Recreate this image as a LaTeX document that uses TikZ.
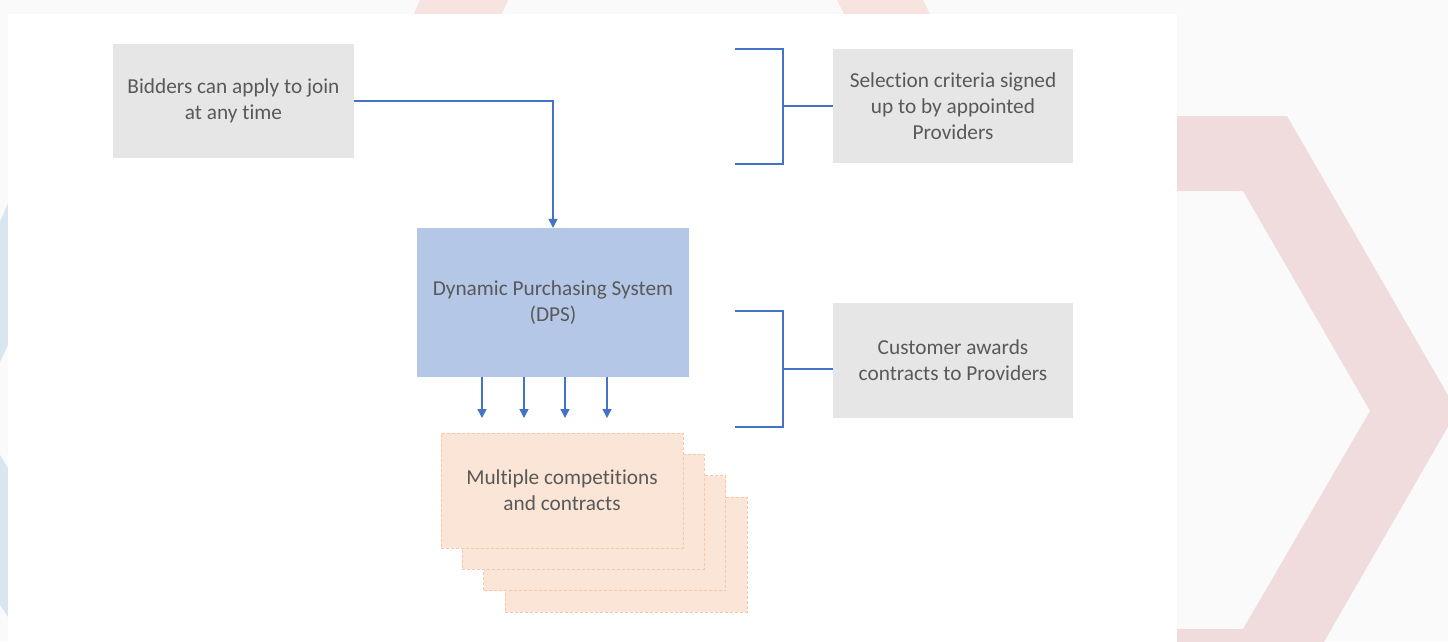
\documentclass[tikz,border=0pt]{standalone}
\usepackage{fontspec}
\setmainfont{Carlito}[Ligatures=NoCommon]
\usetikzlibrary{arrows.meta}
\definecolor{pagebg}{HTML}{FAFAFA}
\definecolor{chevpink}{HTML}{F0DCDD}
\definecolor{toppink}{HTML}{F7E3DF}
\definecolor{sideblue}{HTML}{D9E6EF}
\definecolor{greyfill}{HTML}{E6E6E6}
\definecolor{dpsfill}{HTML}{B4C7E7}
\definecolor{mcfill}{HTML}{FBE5D6}
\definecolor{mcline}{HTML}{F6C9AA}
\definecolor{linkblue}{HTML}{4472C4}
\definecolor{txtgrey}{HTML}{595959}
\tikzset{
  box/.style={rectangle, inner sep=0pt, align=center, text=txtgrey,
    font=\fontsize{21.3}{26}\selectfont,
    execute at begin node={\rule{0pt}{19.5pt}}},
  greybox/.style={box, fill=greyfill, minimum width=241pt, minimum height=114pt},
  dpsbox/.style={box, fill=dpsfill, minimum width=272pt, minimum height=149pt},
  mcbox/.style={box, fill=mcfill, draw=mcline, line width=0.9pt,
    dash pattern=on 3pt off 2pt, minimum width=242pt, minimum height=115pt},
  link/.style={draw=linkblue, line width=1.3pt},
  arr/.style={link, -{Triangle[width=9pt,length=9pt]}}
}
\begin{document}
\begin{tikzpicture}[x=1pt,y=-1pt]
\useasboundingbox (0,0) rectangle (1448,641);
\clip (0,0) rectangle (1448,641);
% page background and decorative shapes
\fill[pagebg] (0,0) rectangle (1448,641);
\fill[toppink] (420,0) -- (508,0) -- (499,20) -- (411,20) -- cycle;
\fill[toppink] (837,0) -- (923,0) -- (933,20) -- (847,20) -- cycle;
\fill[chevpink] (1150,116) -- (1287,116) -- (1457,411) -- (1287,706) -- (1150,706)
  -- (1150,629) -- (1243,629) -- (1370,411) -- (1243,191) -- (1150,191) -- cycle;
\fill[sideblue] (0,222) -- (8,203) -- (8,345) -- (0,362) -- cycle;
\fill[sideblue] (0,455) -- (8,468) -- (8,617) -- (0,605) -- cycle;
% white content panel
\fill[white] (8,14) rectangle (1177,660);

% boxes
\node[greybox] (bid) at (233.5,101) {Bidders can apply to join\\at any time};
\node[dpsbox] (dps) at (553,302.5) {Dynamic Purchasing System\\(DPS)};
\node[greybox, minimum width=240pt] (sel) at (953,106) {Selection criteria signed\\up to by appointed\\Providers};
\node[greybox, minimum width=240pt, minimum height=115pt] (cust) at (953,360.5) {Customer awards\\contracts to Providers};

% stacked competition cards, back to front
\node[mcbox] (mc4) at (626,554.5) {};
\node[mcbox] (mc3) at (604.6,533.1) {};
\node[mcbox] (mc2) at (583.3,511.8) {};
\node[mcbox] (mc1) at (562,490.5) {Multiple competitions\\and contracts};

% bidders feed into the DPS
\draw[arr] (bid.east) -| (dps.north);

% four outputs from the DPS
\coordinate (o1) at (482,418);
\coordinate (o2) at (524,418);
\coordinate (o3) at (565,418);
\coordinate (o4) at (607,418);
\foreach \o in {o1,o2,o3,o4}
  \draw[arr] (dps.south -| \o) -- (\o);

% bracket beside the selection criteria
\coordinate (b1t) at (735,49);
\coordinate (b1j) at (783,106);
\coordinate (b1b) at (735,164);
\draw[link] (b1t) -| (b1j) |- (b1b);
\draw[link] (b1j) -- (sel.west);

% bracket beside the contract awards
\coordinate (b2t) at (735,311);
\coordinate (b2j) at (783,369);
\coordinate (b2b) at (735,427);
\draw[link] (b2t) -| (b2j) |- (b2b);
\draw[link, line width=2pt] (b2j) -- (b2j -| cust.west);
\end{tikzpicture}
\end{document}
